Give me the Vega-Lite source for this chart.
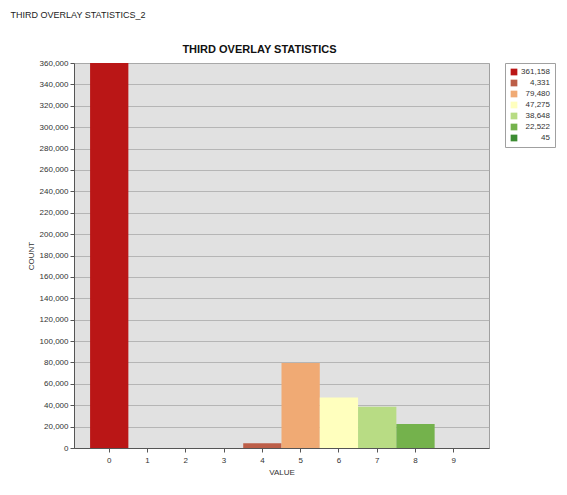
{
  "$schema": "https://vega.github.io/schema/vega-lite/v6.json",
  "background": "white",
  "padding": {"left": 10, "top": 10, "right": 5, "bottom": 5},
  "config": {
    "font": "Liberation Sans",
    "view": {"fill": "#E1E1E1", "stroke": "#A0A0A0"},
    "concat": {"spacing": 0}
  },
  "title": {"text": "THIRD OVERLAY STATISTICS_2", "anchor": "start", "fontSize": 9, "fontWeight": "normal", "color": "#222222", "offset": 24, "dx": -16},
  "vconcat": [
    {
      "title": {"text": "THIRD OVERLAY STATISTICS", "fontSize": 11, "fontWeight": "bold", "color": "#111111", "dx": -22, "offset": 4},
      "width": 415,
      "height": 385,
      "data": {
        "values": [
          {"value": 0, "count": 361158, "legend": "361,158"},
          {"value": 4, "count": 4331, "legend": "4,331"},
          {"value": 5, "count": 79480, "legend": "79,480"},
          {"value": 6, "count": 47275, "legend": "47,275"},
          {"value": 7, "count": 38648, "legend": "38,648"},
          {"value": 8, "count": 22522, "legend": "22,522"},
          {"value": 9, "count": 45, "legend": "45"}
        ]
      },
      "mark": {"type": "bar", "clip": true},
      "encoding": {
        "x": {
          "field": "value", "type": "ordinal",
          "scale": {"domain": [0, 1, 2, 3, 4, 5, 6, 7, 8, 9], "paddingInner": 0, "paddingOuter": 0.42},
          "axis": {"title": "VALUE", "labelAngle": 0, "labelFontSize": 8, "labelColor": "#333333", "titleFontSize": 8, "titleFontWeight": "normal", "titleColor": "#333333", "tickSize": 4, "tickColor": "#555555", "domainColor": "#555555", "labelPadding": 4, "titlePadding": 4}
        },
        "y": {
          "field": "count", "type": "quantitative",
          "scale": {"domain": [0, 360000], "nice": false},
          "axis": {"title": "COUNT", "format": ",d", "tickCount": 18, "labelFontSize": 8, "labelColor": "#333333", "titleFontSize": 8, "titleFontWeight": "normal", "titleColor": "#333333", "tickSize": 4, "tickColor": "#555555", "domainColor": "#555555", "gridColor": "#AAAAAA", "gridWidth": 0.8, "titlePadding": 4}
        },
        "color": {
          "field": "legend", "type": "nominal",
          "scale": {
            "domain": ["361,158", "4,331", "79,480", "47,275", "38,648", "22,522", "45"],
            "range": ["#BA1616", "#BC5E48", "#F0AA74", "#FFFFBE", "#B8DC84", "#74B24C", "#3C8C32"]
          },
          "legend": {"title": null, "symbolType": "square", "symbolSize": 45, "symbolStrokeWidth": 0, "labelFontSize": 8, "labelColor": "#333333", "labelAlign": "right", "labelOffset": 32, "rowPadding": 3, "strokeColor": "#A0A0A0", "padding": 5, "offset": 15}
        }
      }
    }
  ]
}
